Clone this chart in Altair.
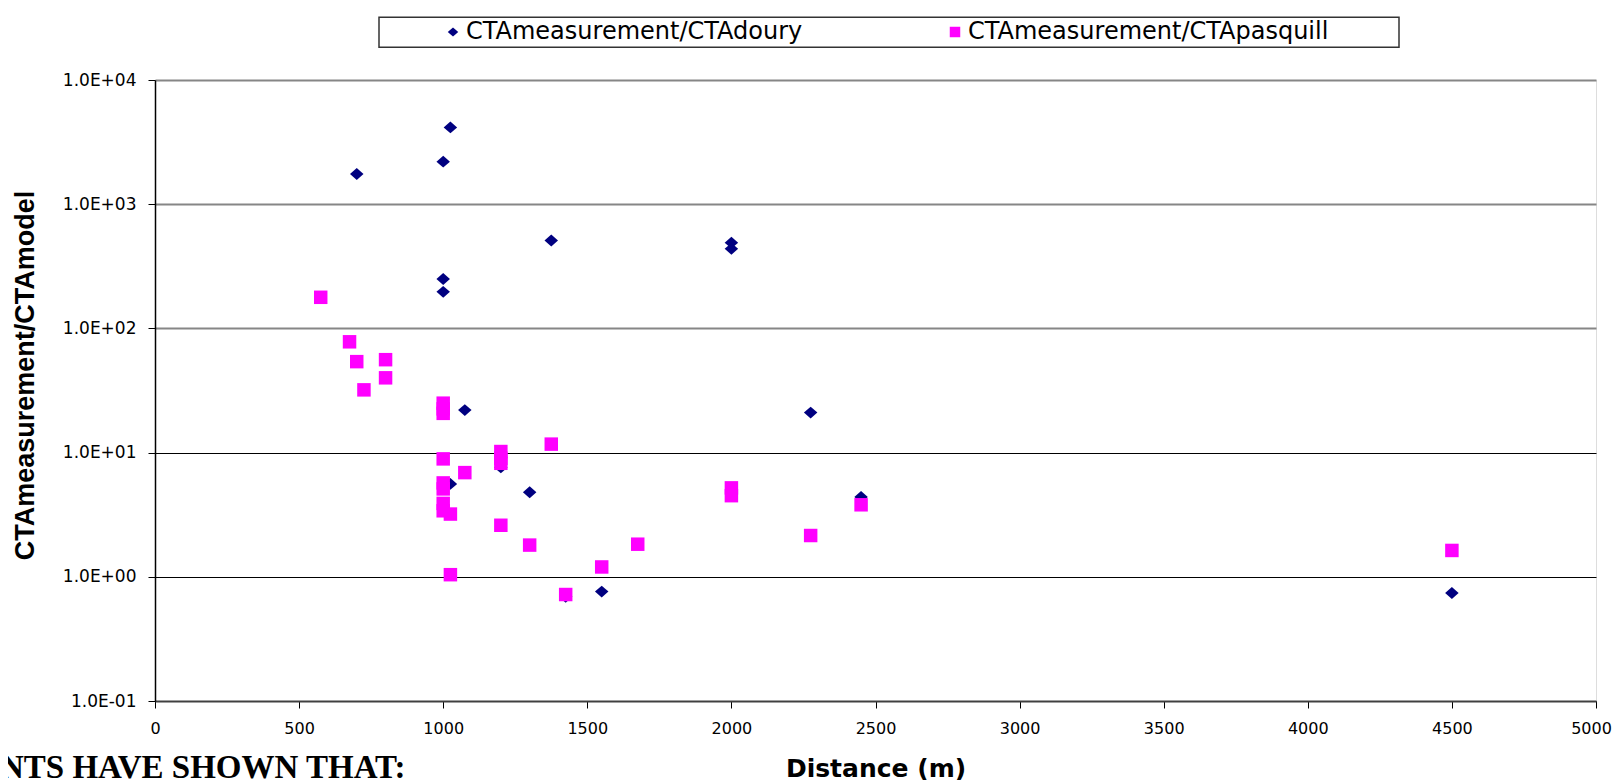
import altair as alt
import pandas as pd

# ---- data ----
series_names = ["CTAmeasurement/CTAdoury", "CTAmeasurement/CTApasquill"]
series_colors = ["#000080", "#FF00FF"]

doury_distance = [700, 1000, 1025, 1000, 1000, 1375, 2000, 2000, 1075, 1200, 1025, 1300, 2275, 2450, 1425, 1550, 4500]
doury_ratio = [1750, 2200, 4150, 250, 197, 510, 490, 437, 22, 7.6, 5.6, 4.8, 21, 4.4, 0.69, 0.76, 0.74]

pasquill_distance = [575, 675, 700, 800, 725, 800, 1000, 1000, 1000, 1375, 1200, 1200, 1200, 1000, 1075,
                     1000, 1000, 1000, 1000, 1025, 1200, 1300, 1550, 1025, 1425, 1675, 2000, 2000, 2275, 2450, 4500]
pasquill_ratio = [178, 78, 54, 56, 32, 40, 25, 22.5, 20.7, 11.7, 10.2, 9.0, 8.2, 8.9, 6.9,
                  5.7, 5.1, 3.9, 3.4, 3.2, 2.6, 1.8, 1.2, 1.04, 0.72, 1.83, 5.2, 4.5, 2.15, 3.8, 1.63]

x_tick_values = [0, 500, 1000, 1500, 2000, 2500, 3000, 3500, 4000, 4500, 5000]
y_tick_values = [0.1, 1, 10, 100, 1000, 10000]
y_tick_labels = ["1.0E-01", "1.0E+00", "1.0E+01", "1.0E+02", "1.0E+03", "1.0E+04"]
x_title = "Distance (m)"
y_title = "CTAmeasurement/CTAmodel"
page_text = "NTS HAVE SHOWN THAT:"

df = pd.DataFrame({
    "distance": doury_distance + pasquill_distance,
    "ratio": doury_ratio + pasquill_ratio,
    "series": [series_names[0]] * len(doury_distance) + [series_names[1]] * len(pasquill_distance),
})
df["order"] = range(len(df))

label_expr = ""
for v, lab in zip(y_tick_values, y_tick_labels):
    label_expr += f"abs(datum.value - {v}) < {v * 1e-6} ? '{lab}' : "
label_expr += "''"

W, H = 1441, 621
diamond = "M-1,0L0,-0.88L1,0L0,0.88Z"

legend_def = alt.Legend(title=None, orient="none", direction="horizontal",
                        legendX=286, legendY=-60, symbolSize=110,
                        labelFont="DejaVu Sans", labelFontSize=24, labelColor="black",
                        labelLimit=600, labelOffset=1, columnPadding=140,
                        symbolStrokeWidth=0)

points = alt.Chart(df).mark_point(filled=True, opacity=1, size=182, strokeWidth=0).encode(
    x=alt.X("distance:Q",
            scale=alt.Scale(domain=[0, 5000], nice=False, zero=False),
            axis=alt.Axis(values=x_tick_values, format="d", grid=False,
                          title=x_title, titleX=W / 2, titleY=75, titleAlign="center",
                          titleBaseline="alphabetic", titleFont="DejaVu Sans", titleFontSize=25,
                          titleFontWeight="bold", titleColor="black",
                          labelFont="DejaVu Sans", labelFontSize=16, labelColor="black",
                          labelBaseline="middle", labelPadding=20, tickSize=7, tickColor="black",
                          labelOffset={"condition": {"test": "datum.value >= 5000", "value": -5}, "value": 0},
                          domainColor="#404040", domainWidth=2, labelFlush=False)),
    y=alt.Y("ratio:Q",
            scale=alt.Scale(type="log", domain=[0.1, 10000], nice=False),
            axis=alt.Axis(values=y_tick_values, labelExpr=label_expr,
                          title=y_title, titleX=-130, titleY=295, titleAngle=270,
                          titleAlign="center", titleBaseline="middle",
                          titleFont="Liberation Sans", titleFontSize=27, titleFontWeight="bold",
                          titleColor="black",
                          labelFont="DejaVu Sans", labelFontSize=17, labelColor="black",
                          labelPadding=12, tickSize=7, tickColor="black",
                          domainColor="black", domainWidth=1.5,
                          grid=True,
                          gridColor={"condition": {"test": "datum.value >= 100", "value": "#868686"}, "value": "#000000"},
                          gridWidth={"condition": {"test": "datum.value >= 100", "value": 2}, "value": 1},
                          labelFlush=False)),
    color=alt.Color("series:N", scale=alt.Scale(domain=series_names, range=series_colors),
                    legend=legend_def),
    shape=alt.Shape("series:N", scale=alt.Scale(domain=series_names, range=[diamond, "square"]),
                    legend=legend_def),
    order=alt.Order("order:Q"),
)

frame_df = pd.DataFrame({"k": [0]})
legend_box = alt.Chart(frame_df).mark_rect(fill="white", fillOpacity=0, stroke="#333333", strokeWidth=1.5).encode(
    x=alt.value(224), x2=alt.value(1244), y=alt.value(-62.7), y2=alt.value(-32.8)
)

bottom_text = alt.Chart(frame_df).mark_text(
    text=page_text, font="Liberation Serif", fontSize=33, fontWeight="bold",
    align="left", baseline="alphabetic", color="black"
).encode(x=alt.value(-155), y=alt.value(698))

chart = alt.layer(legend_box, points, bottom_text).properties(
    width=W, height=H,
    autosize=alt.AutoSizeParams(type="none"),
    padding={"left": 147, "top": 72, "right": 16, "bottom": 80},
).configure_view(stroke="#868686", strokeWidth=2.5).configure(background="white")

chart.save("out.html", embed_options={"renderer": "svg", "actions": False})
